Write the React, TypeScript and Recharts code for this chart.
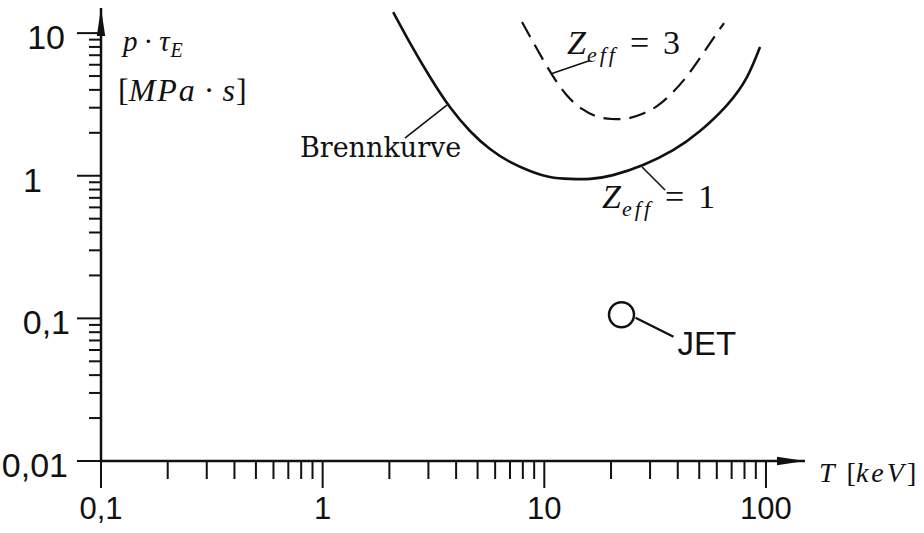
import React from 'react';
import { ComposedChart, XAxis, YAxis, Line, Scatter, ReferenceDot } from 'recharts';

// Brennkurve (Z_eff = 1): temperature [keV] and p·tau_E [MPa·s]
const brennT = [2.08, 2.48, 3.05, 3.75, 4.62, 5.69, 7.0, 8.62, 10.6, 13.1, 16.1, 20.4, 27.9, 38.1, 50.4, 66.7, 82.1, 94.0];
const brennP = [14.05, 8.52, 4.92, 3.03, 2.06, 1.54, 1.25, 1.08, 0.98, 0.95, 0.95, 1.01, 1.19, 1.51, 2.06, 3.13, 4.92, 7.99];

// Brennkurve with Z_eff = 3
const zeff3T = [7.93, 9.27, 10.83, 12.66, 14.8, 17.29, 20.21, 23.61, 27.59, 32.24, 37.68, 44.04, 51.47, 60.14, 64.68];
const zeff3P = [11.96, 7.73, 5.12, 3.65, 2.94, 2.6, 2.5, 2.52, 2.71, 3.08, 3.8, 5.0, 7.02, 10.01, 11.77];

// JET operating point
const jetT = [22.3];
const jetP = [0.106];

// decade ticks and their labels
const xDecades = [0.1, 1, 10, 100];
const xTickLabels = ['0,1', '1', '10', '100'];
const yDecades = [0.01, 0.1, 1, 10];
const yTickLabels = ['0,01', '0,1', '1', '10'];

const INK = '#111';
const SANS = '"Liberation Sans", Arial, sans-serif';
const SERIF = '"DejaVu Serif", serif';
const MATH = '"Liberation Serif", "Times New Roman", serif';

const brennData = brennT.map((T, i) => ({ T, p: brennP[i] }));
const zeff3Data = zeff3T.map((T, i) => ({ T, p: zeff3P[i] }));
const jetData = jetT.map((T, i) => ({ T, p: jetP[i] }));

// 1..9 subdivisions of every decade, up to the last one
const logTicks = (decades: number[]) => {
  const last = decades[decades.length - 1];
  const out: number[] = [];
  decades.forEach((d) => {
    for (let k = 1; k <= 9; k++) {
      if (k * d <= last * 1.0001) out.push(k * d);
    }
  });
  return out;
};
const xTicks = logTicks(xDecades);
const yTicks = logTicks(yDecades);

const decadeIndex = (decades: number[], v: number) =>
  decades.findIndex((d) => Math.abs(v / d - 1) < 1e-6);

const XTick = (props: any) => {
  const { x, y, payload } = props;
  const i = decadeIndex(xDecades, payload.value);
  const major = i >= 0;
  return (
    <g>
      <line x1={x} y1={y} x2={x} y2={y + (major ? 27 : 18)} stroke={INK} strokeWidth={2} />
      {major && (
        <text x={x} y={y + 58} textAnchor="middle" fontFamily={SANS} fontSize={31} fill={INK}>
          {xTickLabels[i]}
        </text>
      )}
    </g>
  );
};

// gap between axis and right edge of each y label
const yLabelGap = [33, 31, 59, 36];

const YTick = (props: any) => {
  const { x, y, payload } = props;
  const i = decadeIndex(yDecades, payload.value);
  const major = i >= 0;
  return (
    <g>
      <line x1={x} y1={y} x2={x - (major ? 24 : 12)} y2={y} stroke={INK} strokeWidth={2} />
      {major && (
        <text x={x - yLabelGap[i]} y={y + 16} textAnchor="end" fontFamily={SANS} fontSize={34} fill={INK}>
          {yTickLabels[i]}
        </text>
      )}
    </g>
  );
};

const JetMarker = (props: any) => {
  const { cx, cy } = props;
  return (
    <g>
      <circle cx={cx} cy={cy} r={12.5} fill="#fff" stroke={INK} strokeWidth={2.5} />
      <line x1={cx + 14} y1={cy + 3} x2={cx + 52} y2={cy + 22} stroke={INK} strokeWidth={2.2} />
      <text x={cx + 56} y={cy + 40} fontFamily={SANS} fontSize={33} fill={INK}>
        JET
      </text>
    </g>
  );
};

const BrennNote = (props: any) => {
  const { cx, cy } = props;
  return (
    <g>
      <line x1={cx - 3} y1={cy - 2} x2={cx - 45} y2={cy + 31} stroke={INK} strokeWidth={1.6} />
      <text x={cx - 150} y={cy + 50} fontFamily={SERIF} fontSize={27} fill={INK}>
        Brennkurve
      </text>
    </g>
  );
};

// Z_eff = n, with the subscript set smaller and lowered
const ZeffLabel = ({ x, y, n }: { x: number; y: number; n: number }) => (
  <text x={x} y={y} fontFamily={MATH} fontSize={34} fill={INK}>
    <tspan fontStyle="italic">Z</tspan>
    <tspan fontStyle="italic" fontSize={22} dy={8} dx={1} letterSpacing={3}>eff</tspan>
    <tspan dy={-8} dx={12}>=</tspan>
    <tspan dx={14}>{n}</tspan>
  </text>
);

const Zeff3Note = (props: any) => {
  const { cx, cy } = props;
  return (
    <g>
      <line x1={cx} y1={cy - 1} x2={cx + 38} y2={cy - 14} stroke={INK} strokeWidth={1.6} />
      <ZeffLabel x={cx + 15} y={cy - 21} n={3} />
    </g>
  );
};

const Zeff1Note = (props: any) => {
  const { cx, cy } = props;
  return (
    <g>
      <line x1={cx - 1} y1={cy + 2} x2={cx + 22} y2={cy + 25} stroke={INK} strokeWidth={1.6} />
      <ZeffLabel x={cx - 41} y={cy + 43} n={1} />
    </g>
  );
};

export default function App() {
  return (
    <div style={{ position: 'absolute', left: 0, top: 0, background: '#fff' }}>
      <ComposedChart width={924} height={533} margin={{ top: 8, right: 119, bottom: 0, left: 0 }}>
        <defs>
          <marker
            id="axisArrow"
            viewBox="0 0 28 10"
            refX={28}
            refY={5}
            markerWidth={28}
            markerHeight={10}
            markerUnits="userSpaceOnUse"
            orient="auto-start-reverse"
          >
            <path d="M0,0.8 L28,5 L0,9.2 Z" fill={INK} />
          </marker>
        </defs>
        <XAxis
          type="number"
          dataKey="T"
          scale="log"
          domain={[0.1, 150]}
          allowDataOverflow
          ticks={xTicks}
          interval={0}
          tickSize={0}
          tickMargin={0}
          tickLine={false}
          tick={<XTick />}
          height={72}
          axisLine={{ stroke: INK, strokeWidth: 2.5, markerEnd: 'url(#axisArrow)' }}
        />
        <YAxis
          type="number"
          dataKey="p"
          scale="log"
          domain={[0.01, 15]}
          allowDataOverflow
          ticks={yTicks}
          interval={0}
          tickSize={0}
          tickMargin={0}
          tickLine={false}
          tick={<YTick />}
          width={101}
          axisLine={{ stroke: INK, strokeWidth: 2.5, markerStart: 'url(#axisArrow)' }}
        />
        <Line
          data={brennData}
          dataKey="p"
          type="natural"
          stroke={INK}
          strokeWidth={2.6}
          dot={false}
          activeDot={false}
          isAnimationActive={false}
        />
        <Line
          data={zeff3Data}
          dataKey="p"
          type="natural"
          stroke={INK}
          strokeWidth={2.2}
          strokeDasharray="17 9"
          dot={false}
          activeDot={false}
          isAnimationActive={false}
        />
        <Scatter data={jetData} dataKey="p" shape={<JetMarker />} isAnimationActive={false} />
        <ReferenceDot x={brennT[3]} y={brennP[3]} ifOverflow="visible" shape={<BrennNote />} />
        <ReferenceDot x={zeff3T[2]} y={zeff3P[2]} ifOverflow="visible" shape={<Zeff3Note />} />
        <ReferenceDot x={brennT[12]} y={brennP[12]} ifOverflow="visible" shape={<Zeff1Note />} />
        {/* axis titles */}
        <text x={123} y={51} fontFamily={MATH} fontSize={29} fill={INK}>
          <tspan fontStyle="italic">p</tspan>
          <tspan dx={6}>·</tspan>
          <tspan fontStyle="italic" dx={6}>τ</tspan>
          <tspan fontStyle="italic" fontSize={20} dy={6} dx={1}>E</tspan>
        </text>
        <text x={118} y={101} fontFamily={MATH} fontSize={32} fill={INK}>
          <tspan>[</tspan>
          <tspan fontStyle="italic" letterSpacing={2}>MPa</tspan>
          <tspan dx={7}>·</tspan>
          <tspan fontStyle="italic" dx={8}>s</tspan>
          <tspan dx={1}>]</tspan>
        </text>
        <text x={819} y={482} fontFamily={MATH} fontSize={28} fill={INK}>
          <tspan fontStyle="italic">T</tspan>
          <tspan dx={12}>[</tspan>
          <tspan fontStyle="italic" letterSpacing={3}>keV</tspan>
          <tspan>]</tspan>
        </text>
      </ComposedChart>
    </div>
  );
}
